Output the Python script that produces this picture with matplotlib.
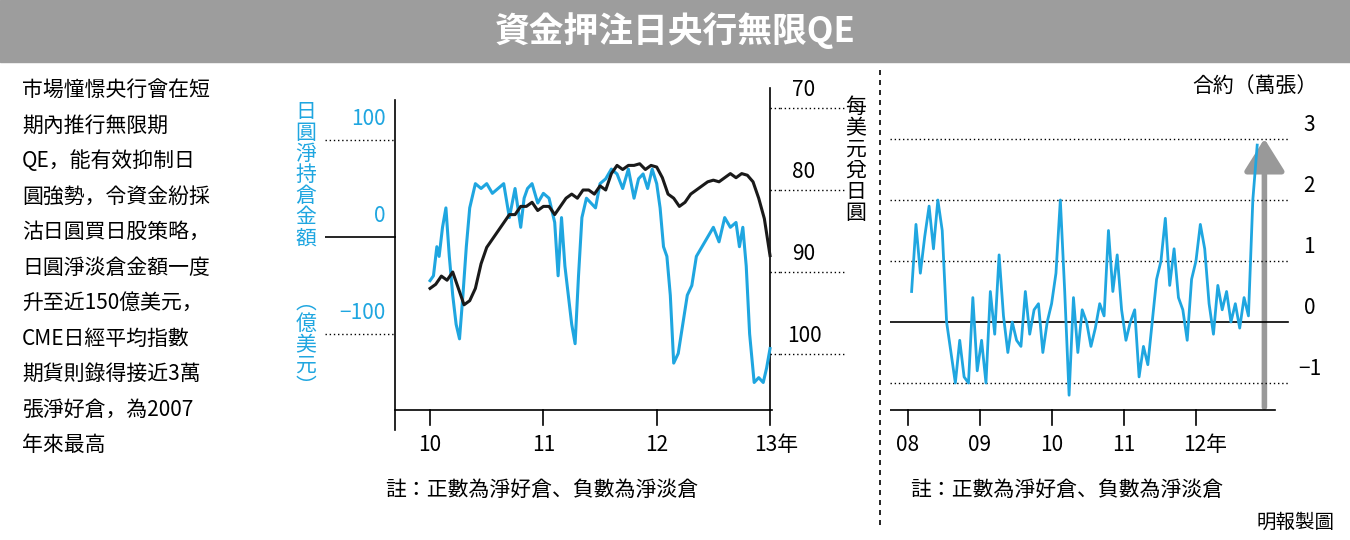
import matplotlib
matplotlib.use("Agg")
import matplotlib.pyplot as plt
from matplotlib.patches import Rectangle, FancyArrowPatch
import numpy as np

plt.rcParams["font.family"] = ["Noto Sans CJK JP", "Noto Sans CJK TC", "Noto Sans CJK SC", "Noto Sans CJK KR", "DejaVu Sans"]

title = "資金押注日央行無限QE"
para = ["市場憧憬央行會在短", "期內推行無限期", "QE，能有效抑制日", "圓強勢，令資金紛採",
        "沽日圓買日股策略，", "日圓淨淡倉金額一度", "升至近150億美元，", "CME日經平均指數",
        "期貨則錄得接近3萬", "張淨好倉，為2007", "年來最高"]

# left chart: net yen positions (100M USD) and USD/JPY
blue_x = [10.0,10.03,10.06,10.08,10.11,10.14,10.17,10.2,10.23,10.26,10.29,10.32,10.35,10.4,10.45,10.5,10.55,10.6,10.65,10.7,10.75,10.8,10.83,10.86,10.9,10.95,11.0,11.05,11.1,11.13,11.16,11.19,11.22,11.25,11.28,11.31,11.34,11.38,11.42,11.46,11.5,11.55,11.6,11.65,11.7,11.75,11.8,11.84,11.88,11.92,11.96,12.0,12.03,12.06,12.09,12.12,12.15,12.19,12.23,12.27,12.31,12.35,12.4,12.45,12.5,12.55,12.6,12.65,12.7,12.73,12.76,12.79,12.82,12.86,12.9,12.94,12.97,13.0]
blue_v = [-45,-40,-10,-20,10,30,-20,-60,-90,-105,-60,-10,30,55,50,55,45,50,55,20,50,10,40,50,55,35,45,40,15,-40,20,-30,-60,-90,-110,-40,20,40,35,30,55,60,70,65,50,70,40,60,65,50,70,55,30,-10,-20,-60,-130,-120,-90,-60,-50,-20,-10,0,10,-5,20,10,15,-10,10,-30,-100,-150,-145,-150,-135,-115]
black_x = [10.0,10.05,10.1,10.15,10.2,10.25,10.3,10.35,10.4,10.45,10.5,10.55,10.6,10.65,10.7,10.75,10.8,10.85,10.9,10.95,11.0,11.05,11.1,11.15,11.2,11.25,11.3,11.35,11.4,11.45,11.5,11.55,11.6,11.65,11.7,11.75,11.8,11.85,11.9,11.95,12.0,12.05,12.1,12.15,12.2,12.25,12.3,12.35,12.4,12.45,12.5,12.55,12.6,12.65,12.7,12.75,12.8,12.85,12.9,12.95,13.0]
black_v = [92,91.5,90.5,91,90,92,94,93.5,92,89,87,86,85,84,83,83,82,82,81.5,82.5,82,82,83,82,81,80.5,81,80,80,80.5,79.5,80,78,77,77.5,77,77,76.8,77.5,77,77.2,78.5,80.5,81,82,81.5,80.5,80,79.5,79,78.8,79,78.5,78,78.5,78,78.2,79,81,83.5,88]
left_xticks = [10, 11, 12, 13]
left_xlabels = ["10", "11", "12", "13年"]
blue_ticks = [100, 0, -100]
blue_labels = ["100", "0", "−100"]
black_ticks = [70, 80, 90, 100]

# right chart: CME Nikkei futures net contracts (10k)
cme_v = [0.5,1.6,0.8,1.4,1.9,1.2,2.0,1.5,0.0,-0.5,-1.0,-0.3,-0.9,-1.0,0.4,-0.8,-0.3,-1.0,0.5,-0.2,1.1,0.1,-0.5,0.0,-0.3,-0.4,0.5,-0.2,0.2,0.3,-0.5,0.0,0.3,0.8,2.0,0.5,-1.2,0.4,-0.5,0.2,0.0,-0.4,-0.1,0.3,0.1,1.5,0.5,1.1,0.2,-0.3,0.0,0.2,-0.9,-0.4,-0.7,0.0,0.7,1.0,1.7,0.6,1.2,0.4,0.2,-0.3,0.7,1.0,1.6,1.2,0.3,-0.2,0.6,0.2,0.5,0.0,0.3,-0.1,0.4,0.1,2.0,2.9]
cme_start, cme_end = 2008.05, 2012.85
right_xticks = [2008, 2009, 2010, 2011, 2012]
right_xlabels = ["08", "09", "10", "11", "12年"]
right_yticks = [3, 2, 1, 0, -1]
right_ylabels = ["3", "2", "1", "0", "−1"]

BLUE = "#1fa6e0"
W, H = 1350, 540
fig = plt.figure(figsize=(13.5, 5.4), dpi=100)
fig.patch.set_facecolor("white")

def fx(px): return px / W
def fy(py): return 1 - py / H

fig.patches.append(Rectangle((0, fy(62)), 1, 62 / H, transform=fig.transFigure, color="#9d9d9d", zorder=0))
fig.text(0.5, fy(31), title, ha="center", va="center", color="white", fontsize=25, fontweight="bold")
for i, line in enumerate(para):
    fig.text(fx(22), fy(90 + i * 35.5), line, ha="left", va="center", fontsize=15)

# left axes
ax = fig.add_axes([fx(325), fy(440), fx(780) - fx(325), (440 - 62) / H])
x0, x1 = 9.073, 13.088
ax.set_xlim(x0, x1)
ax.set_ylim((237 - 440) / 0.97, (237 - 62) / 0.97)
ax.axis("off")
ax.plot(blue_x, blue_v, color=BLUE, lw=2.2, zorder=3)
ax2 = ax.twinx()
ax2.set_ylim(80 + (440 - 190) / 8.2, 80 + (62 - 190) / 8.2)
ax2.set_xlim(x0, x1)
ax2.axis("off")
ax2.plot(black_x, black_v, color="#1a1a1a", lw=2.2, zorder=2)
spx = 9.69
ybot = (237 - 410) / 0.97
ax.plot([spx, spx], [(237 - 100) / 0.97, (237 - 430) / 0.97], color="black", lw=1.2, clip_on=False)
ax.plot([spx, x1 - 0.075], [ybot, ybot], color="black", lw=1.2)
ax.plot([13.0, 13.0], [(237 - 88) / 0.97, ybot], color="black", lw=1.2)
for t, lab in zip(left_xticks, left_xlabels):
    ax.plot([t, t], [ybot, (237 - 425) / 0.97], color="black", lw=1.2, clip_on=False)
    ax.text(t + (0.05 if lab.endswith("年") else 0), (237 - 445) / 0.97, lab, ha="center", va="center", fontsize=15, clip_on=False)
for t, lab in zip(blue_ticks, blue_labels):
    ax.plot([x0, spx], [t, t], color="black", lw=1.2 if t == 0 else 1, ls="-" if t == 0 else (0, (1, 2)))
    ax.text(spx - 0.08, t + 10, lab, ha="right", va="bottom", color=BLUE, fontsize=15)
for t in black_ticks:
    ax2.plot([13.0, x1], [t, t], color="black", lw=1, ls=(0, (1, 2)), clip_on=False)
    ax2.plot([x1, 13.65], [t, t], color="black", lw=1, ls=(0, (1, 2)), clip_on=False)
    ax2.text(13.3, t - 0.8, str(t), ha="center", va="bottom", fontsize=15, clip_on=False)
fig.text(fx(306), fy(175), "\n".join("日圓淨持倉金額"), ha="center", va="center", color=BLUE, fontsize=15, linespacing=0.95)
fig.text(fx(306), fy(345), "︵\n億\n美\n元\n︶", ha="center", va="center", color=BLUE, fontsize=15, linespacing=0.95)
fig.text(fx(856), fy(160), "\n".join("每美元兌日圓"), ha="center", va="center", fontsize=15, linespacing=0.95)
fig.text(fx(385), fy(490), "註：正數為淨好倉、負數為淨淡倉", ha="left", va="center", fontsize=15)

# separator
fig.add_artist(plt.Line2D([fx(880), fx(880)], [fy(70), fy(530)], color="black", lw=1.2, ls=(0, (3, 3))))

# right axes
axr = fig.add_axes([fx(890), fy(440), fx(1295) - fx(890), (440 - 62) / H])
rx0 = 2008 - 18 / 72
rx1 = rx0 + 405 / 72
axr.set_xlim(rx0, rx1)
axr.set_ylim(-(440 - 322) / 61, (322 - 62) / 61)
axr.axis("off")
cx = np.linspace(cme_start, cme_end, len(cme_v))
axr.plot(cx, cme_v, color=BLUE, lw=2.0, zorder=3)
rb = -(410 - 322) / 61
axr.plot([rx0, 2013.1], [rb, rb], color="black", lw=1.2)
for t, lab in zip(right_xticks, right_xlabels):
    axr.plot([t, t], [rb, rb - 0.25], color="black", lw=1.2, clip_on=False)
    axr.text(t + (0.12 if lab.endswith("年") else 0), rb - 0.57, lab, ha="center", va="center", fontsize=15, clip_on=False)
for t, lab in zip(right_yticks, right_ylabels):
    axr.plot([rx0, rx1 - 0.1], [t, t], color="black", lw=1.2 if t == 0 else 1, ls="-" if t == 0 else (0, (1, 2)))
    axr.text(rx1 + 0.2, t + 0.05, lab, ha="center", va="bottom", fontsize=15, clip_on=False)
axr.add_patch(FancyArrowPatch((2012.95, rb), (2012.95, 3.05), arrowstyle="-|>,head_width=5,head_length=8",
                              color="#999999", lw=4, mutation_scale=2.5))
fig.text(fx(1255), fy(86), "合約（萬張）", ha="center", va="center", fontsize=15)
fig.text(fx(910), fy(490), "註：正數為淨好倉、負數為淨淡倉", ha="left", va="center", fontsize=15)
fig.text(fx(1335), fy(522), "明報製圖", ha="right", va="center", fontsize=14)

fig.savefig("out.png", dpi=100)
